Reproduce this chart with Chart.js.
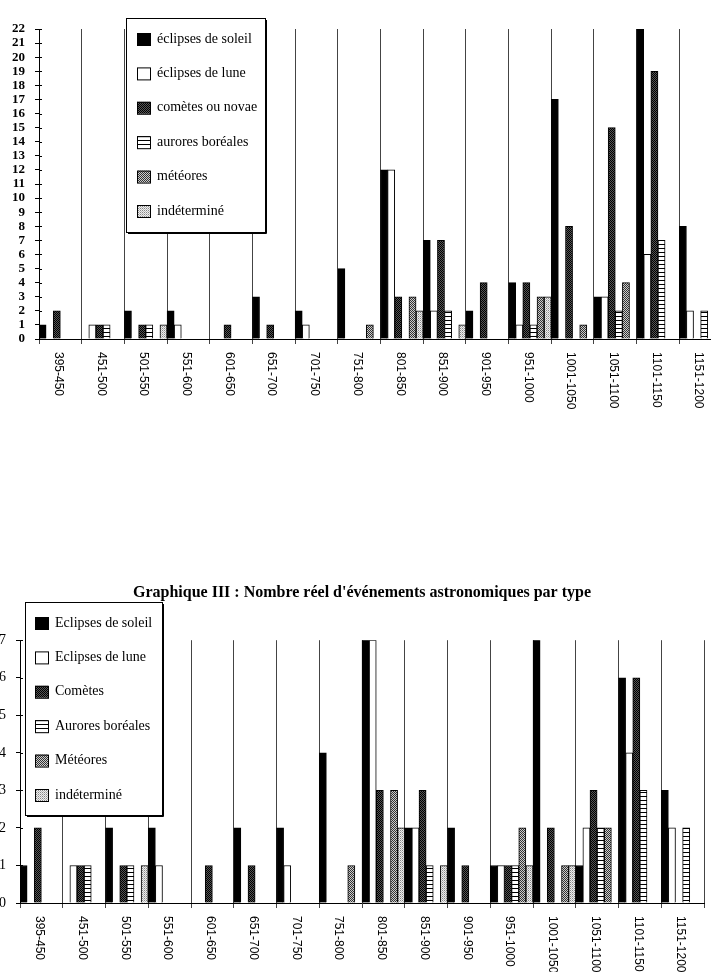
<!DOCTYPE html>
<html>
<head>
<meta charset="utf-8">
<script src="https://cdn.jsdelivr.net/npm/chart.js@4.4.0/dist/chart.umd.min.js"></script>
<style>
  html, body { margin: 0; padding: 0; background: #fff; overflow: hidden; }
  #page { position: relative; width: 711px; height: 972px; overflow: hidden; background: #fff; }
  #c1 { position: absolute; left: 0; top: 0; }
  #c2 { position: absolute; left: 0; top: 580px; }
</style>
</head>
<body>
<div id="page">
  <canvas id="c1" width="730" height="420"></canvas>
  <canvas id="c2" width="711" height="392"></canvas>
</div>
<script>
// categories (half centuries)
const periods = ['395-450', '451-500', '501-550', '551-600', '601-650', '651-700', '701-750', '751-800',
                 '801-850', '851-900', '901-950', '951-1000', '1001-1050', '1051-1100', '1101-1150', '1151-1200'];

// upper chart: counts
const soleil1   = [1, 0, 2, 2, 0, 3, 2, 5, 12, 7, 2, 4, 17, 3, 22, 8];
const lune1     = [0, 1, 0, 1, 0, 0, 1, 0, 12, 2, 0, 1, 0, 3, 6, 2];
const cometes1  = [2, 1, 1, 0, 1, 1, 0, 0, 3, 7, 4, 4, 8, 15, 19, 0];
const aurores1  = [0, 1, 1, 0, 0, 0, 0, 0, 0, 2, 0, 1, 0, 2, 7, 2];
const meteores1 = [0, 0, 0, 0, 0, 0, 0, 1, 3, 0, 0, 3, 1, 4, 0, 0];
const indet1    = [0, 0, 1, 0, 0, 0, 0, 0, 2, 1, 0, 3, 0, 0, 0, 0];
const labels1 = ['éclipses de soleil', 'éclipses de lune', 'comètes ou novae', 'aurores boréales', 'météores', 'indéterminé'];

// lower chart: Graphique III, nombre réel
const soleil2   = [1, 0, 2, 2, 0, 2, 2, 4, 7, 2, 2, 1, 7, 1, 6, 3];
const lune2     = [0, 1, 0, 1, 0, 0, 1, 0, 7, 2, 0, 1, 0, 2, 4, 2];
const cometes2  = [2, 1, 1, 0, 1, 1, 0, 0, 3, 3, 1, 1, 2, 3, 6, 0];
const aurores2  = [0, 1, 1, 0, 0, 0, 0, 0, 0, 1, 0, 1, 0, 2, 3, 2];
const meteores2 = [0, 0, 0, 0, 0, 0, 0, 1, 3, 0, 0, 2, 1, 2, 0, 0];
const indet2    = [0, 0, 1, 0, 0, 0, 0, 0, 2, 1, 0, 1, 1, 0, 0, 0];
const labels2 = ['Eclipses de soleil', 'Eclipses de lune', 'Comètes', 'Aurores boréales', 'Météores', 'indéterminé'];
const title2 = "Graphique III : Nombre réel d'événements astronomiques par type";

Chart.defaults.font.family = '"Liberation Serif", "Times New Roman", serif';
Chart.defaults.color = '#000';

function makePattern(cells) {
    const c = document.createElement('canvas');
    c.width = cells[0].length;
    c.height = cells.length;
    const g = c.getContext('2d');
    cells.forEach((row, j) => row.forEach((col, i) => {
        g.fillStyle = col;
        g.fillRect(i, j, 1, 1);
    }));
    return g.createPattern(c, 'repeat');
}

// fills: soleil, lune, comètes, aurores, météores, indéterminé
const fills = [
    '#000000',
    '#ffffff',
    makePattern([['#000', '#555'], ['#555', '#000']]),
    makePattern([['#000'], ['#fff'], ['#fff'], ['#fff']]),
    makePattern([['#333', '#ccc'], ['#ccc', '#333']]),
    makePattern([['#888', '#eee'], ['#eee', '#bbb']])
];

function buildDatasets(names, series) {
    return series.map((data, i) => ({
        label: names[i],
        data: data,
        backgroundColor: fills[i],
        borderColor: '#000',
        borderWidth: 1,
        categoryPercentage: 1,
        barPercentage: 1
    }));
}

// custom drawing: inner y ticks, rotated category labels, boxed legend
const extras = {
    id: 'extras',
    afterDraw(chart, args, opts) {
        const ctx = chart.ctx;
        const xs = chart.scales.x;
        const ys = chart.scales.y;
        ctx.save();
        ctx.strokeStyle = '#000';
        ctx.lineWidth = 1;
        ys.ticks.forEach((t, i) => {
            const py = Math.round(ys.getPixelForTick(i)) + 0.5;
            ctx.beginPath();
            ctx.moveTo(xs.left, py);
            ctx.lineTo(xs.left + 3, py);
            ctx.stroke();
        });

        ctx.fillStyle = '#000';
        ctx.font = '12px "Liberation Sans", Arial, sans-serif';
        ctx.textAlign = 'left';
        ctx.textBaseline = 'middle';
        chart.data.labels.forEach((lab, i) => {
            ctx.save();
            ctx.translate(xs.getPixelForTick(i) - 2, ys.bottom + opts.labelGap);
            ctx.rotate(Math.PI / 2);
            ctx.fillText(lab, 0, 0);
            ctx.restore();
        });

        const b = opts.box;
        ctx.fillStyle = '#fff';
        ctx.fillRect(b.left, b.top, b.width, b.height);
        ctx.strokeStyle = '#000';
        ctx.strokeRect(b.left + 0.5, b.top + 0.5, b.width, b.height);
        ctx.beginPath();
        ctx.moveTo(b.left + b.width + 1.5, b.top + 2);
        ctx.lineTo(b.left + b.width + 1.5, b.top + b.height + 1.5);
        ctx.lineTo(b.left + 2, b.top + b.height + 1.5);
        ctx.stroke();
        ctx.font = '14px "Liberation Serif", "Times New Roman", serif';
        chart.data.datasets.forEach((ds, i) => {
            const cy = b.top + b.firstRow + i * b.rowGap;
            ctx.fillStyle = ds.backgroundColor;
            ctx.fillRect(b.swatchX, cy - 6, 13, 12);
            ctx.strokeRect(b.swatchX + 0.5, cy - 5.5, 13, 12);
            ctx.fillStyle = '#000';
            ctx.fillText(ds.label, b.textX, cy);
        });
        ctx.restore();
    }
};

function makeChart(id, names, series, yMax, yFont, axisWidth, axisHeight, padding, title, legendBox) {
    return new Chart(document.getElementById(id), {
        type: 'bar',
        data: { labels: periods, datasets: buildDatasets(names, series) },
        options: {
            responsive: false,
            animation: false,
            devicePixelRatio: 1,
            layout: { padding: padding },
            plugins: {
                legend: { display: false },
                tooltip: { enabled: false },
                title: title,
                extras: { labelGap: 13, box: legendBox }
            },
            scales: {
                x: {
                    offset: true,
                    grid: { offset: true, color: '#444', lineWidth: 1, drawTicks: true, tickLength: 5 },
                    border: { color: '#000', width: 1 },
                    ticks: { display: false },
                    afterFit: (scale) => { scale.height = axisHeight; }
                },
                y: {
                    min: 0,
                    max: yMax,
                    ticks: { stepSize: 1, autoSkip: false, padding: 10, font: yFont, color: '#000' },
                    grid: { drawOnChartArea: false, drawTicks: true, tickLength: 4, color: '#000' },
                    border: { color: '#000', width: 1 },
                    afterFit: (scale) => { scale.width = axisWidth; }
                }
            }
        },
        plugins: [extras]
    });
}

makeChart('c1', labels1, [soleil1, lune1, cometes1, aurores1, meteores1, indet1], 22,
    { size: 13, weight: 'bold', lineHeight: 1 }, 39, 81, { top: 29, right: 8, left: 0, bottom: 0 },
    { display: false },
    { left: 126, top: 18, width: 139, height: 214, firstRow: 21, rowGap: 34.4, swatchX: 137, textX: 157 });

makeChart('c2', labels2, [soleil2, lune2, cometes2, aurores2, meteores2, indet2], 7,
    { size: 14 }, 20, 69, { top: 0, right: 7, left: 0, bottom: 0 },
    {
        display: true,
        text: title2,
        fullSize: false,
        color: '#000',
        font: { size: 16, weight: 'bold' },
        padding: { top: 3, bottom: 38 }
    },
    { left: 25, top: 22, width: 137, height: 213, firstRow: 21, rowGap: 34.4, swatchX: 35, textX: 55 });
</script>
</body>
</html>
